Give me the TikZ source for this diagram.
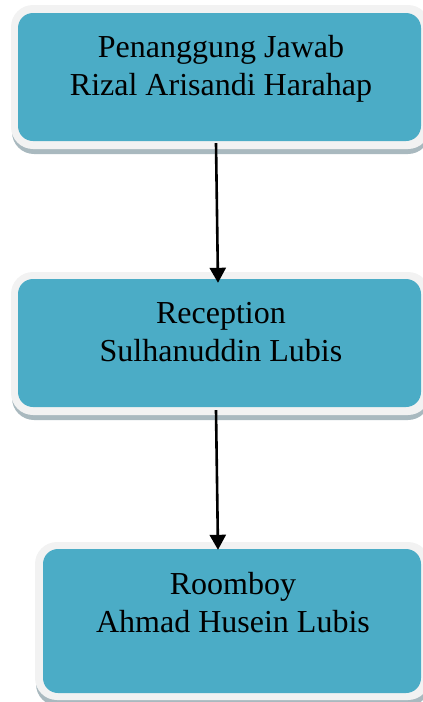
\documentclass[tikz,border=0pt]{standalone}
\usepackage{fontspec}
\setmainfont{Liberation Serif}
\usetikzlibrary{arrows.meta,calc}
\definecolor{tealfill}{HTML}{4BACC6}
\definecolor{rimgray}{HTML}{F2F2F2}
\definecolor{shadowcol}{HTML}{A9B9BF}
\tikzset{
  tealbox/.style={fill=tealfill, draw=none, rounded corners=15pt, inner sep=0pt},
  rim/.style={fill=rimgray, draw=none, rounded corners=22pt},
  boxshadow/.style={fill=shadowcol, draw=none, rounded corners=22pt},
  label/.style={font=\fontsize{32}{38}\selectfont, align=center, inner sep=0pt, text=black},
  conn/.style={line width=2.6pt, -{Triangle[length=15pt,width=16pt]}}
}
\begin{document}
\begin{tikzpicture}[x=1pt,y=-1pt]
\useasboundingbox (0,0) rectangle (423,702);
% box 1
\fill[boxshadow] (12,10) rectangle (430,154);
\fill[rim] (11,5) rectangle (430,149);
\node[tealbox, minimum width=403pt, minimum height=128pt] (b1) at (219.5,77) {};
\node[label] (t1) at (221,69) {Penanggung Jawab\\Rizal Arisandi Harahap};
% box 2
\fill[boxshadow] (12,277) rectangle (430,420);
\fill[rim] (11,272) rectangle (430,415);
\node[tealbox, minimum width=403pt, minimum height=128pt] (b2) at (219.5,343) {};
\node[label] (t2) at (221,332.5) {Reception\\Sulhanuddin Lubis};
% box 3
\fill[boxshadow] (36,547) rectangle (430,706);
\fill[rim] (35,542) rectangle (430,700);
\node[tealbox, minimum width=378pt, minimum height=144pt] (b3) at (232,621) {};
\node[label] (t3) at (233,602.5) {Roomboy\\Ahmad Husein Lubis};
% connectors
\coordinate (c1s) at ($(b1.south)+(-3.5,2)$);
\coordinate (c1e) at ($(b2.north)+(-1.5,4)$);
\coordinate (c2s) at ($(b2.south)+(-3.5,3)$);
\coordinate (c2e) at ($(b3.north)+(-14,1)$);
\draw[conn] (c1s) -- (c1e);
\draw[conn] (c2s) -- (c2e);
\end{tikzpicture}
\end{document}
